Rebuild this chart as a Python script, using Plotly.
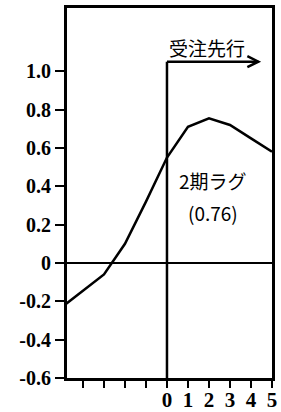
import plotly.graph_objects as go

# Data: cross-correlation by lag (受注先行)
lags = [-5, -4, -3, -2, -1, 0, 1, 2, 3, 4, 5]
corr = [-0.23, -0.145, -0.06, 0.10, 0.32, 0.55, 0.71, 0.755, 0.72, 0.65, 0.58]

x_tickvals = [-4, -3, -2, -1, 0, 1, 2, 3, 4, 5]
x_ticktext = ["", "", "", "", "0", "1", "2", "3", "4", "5"]
y_tickvals = [-0.6, -0.4, -0.2, 0, 0.2, 0.4, 0.6, 0.8, 1.0]
y_ticktext = ["-0.6", "-0.4", "-0.2", "0", "0.2", "0.4", "0.6", "0.8", "1.0"]

lead_label = "受注先行"
lag_label = "2期ラグ"
peak_label = "(0.76)"

arrow_start = 0
arrow_end = 4.35
arrow_level = 1.05

x_range = [-4.76, 5]
y_range = [-0.6, 1.33]

serif = "Liberation Serif, Times New Roman, serif"
cjk = "Noto Sans CJK JP, sans-serif"

fig = go.Figure()
fig.add_trace(go.Scatter(x=lags, y=corr, mode="lines",
                         line=dict(color="black", width=2.5), hoverinfo="skip"))

# vertical divider + lead arrow
fig.add_shape(type="line", x0=arrow_start, x1=arrow_start, y0=y_range[0], y1=arrow_level,
              line=dict(color="black", width=2.5))
fig.add_shape(type="line", x0=arrow_start, x1=arrow_end, y0=arrow_level, y1=arrow_level,
              line=dict(color="black", width=2.5))
fig.add_shape(type="path", xsizemode="pixel", ysizemode="pixel",
              xanchor=arrow_end, yanchor=arrow_level,
              path="M -11 -5.5 L 0 0 L -11 5.5",
              line=dict(color="black", width=2.5))

fig.add_annotation(x=1.9, y=1.125, text=lead_label, showarrow=False,
                   font=dict(family=cjk, size=19, color="black"))
fig.add_annotation(x=2.2, y=0.43, text=lag_label, showarrow=False,
                   font=dict(family=cjk, size=19, color="black"))
fig.add_annotation(x=2.2, y=0.265, text=peak_label, showarrow=False,
                   font=dict(family=cjk, size=19, color="black"))

fig.update_layout(
    width=281, height=412,
    margin=dict(l=67, r=9, t=8, b=34),
    paper_bgcolor="white", plot_bgcolor="white",
    showlegend=False,
)
fig.update_xaxes(range=x_range, tickmode="array", tickvals=x_tickvals, ticktext=x_ticktext,
                 ticks="outside", ticklen=7, tickwidth=2, tickcolor="black",
                 showline=True, linewidth=3, linecolor="black", mirror=True,
                 showgrid=False, zeroline=False, automargin=False,
                 ticklabelstandoff=-6,
                 tickfont=dict(family=serif, size=21, color="black", weight="bold"))
fig.update_yaxes(range=y_range, tickmode="array", tickvals=y_tickvals, ticktext=y_ticktext,
                 ticks="outside", ticklen=9, tickwidth=2, tickcolor="black",
                 showline=True, linewidth=3, linecolor="black", mirror=True,
                 showgrid=False, zeroline=True, zerolinecolor="black", zerolinewidth=2,
                 automargin=False,
                 tickfont=dict(family=serif, size=20, color="black", weight="bold"))

fig.write_html("out.html", config={"displayModeBar": False},
               post_script="document.body.style.margin='0';")
